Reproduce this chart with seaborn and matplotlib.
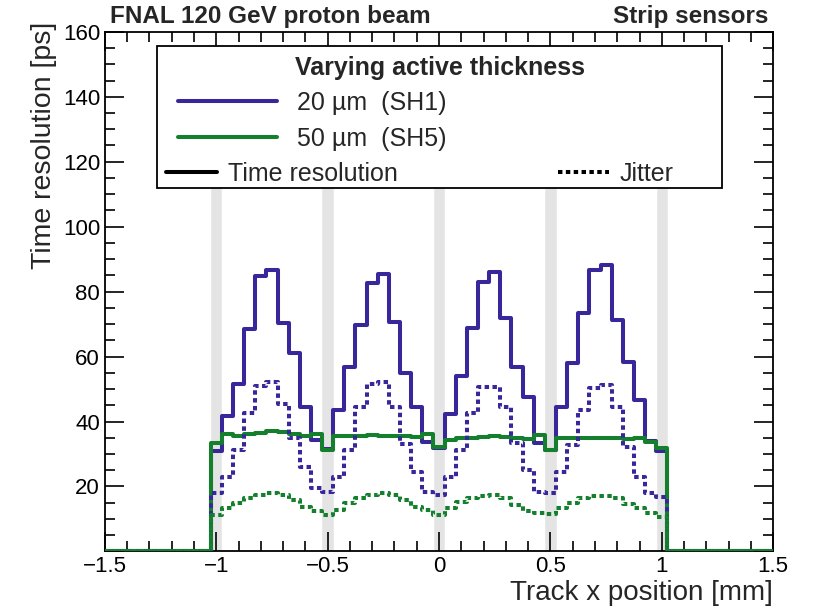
import numpy as np
import pandas as pd
import matplotlib
matplotlib.use("Agg")
import matplotlib.pyplot as plt
from matplotlib.lines import Line2D
from matplotlib.patches import Rectangle
from matplotlib.ticker import MultipleLocator, FuncFormatter
import seaborn as sns

# bin centres (0.05 mm bins), track x position in mm
x_centers = np.round(np.arange(-1.0, 1.0001, 0.05), 3)
bin_width = 0.05
x_range = (-1.5, 1.5)

# SH1 (20 um) time resolution and jitter [ps]
sh1_res = [31.0, 41.8, 51.7, 68.5, 84.7, 86.6, 70.2, 61.0, 44.6, 34.3,
           31.5, 43.5, 56.9, 69.7, 82.5, 85.5, 70.7, 54.8, 44.6, 33.8,
           31.8, 42.2, 54.0, 68.7, 83.0, 86.1, 71.8, 56.7, 47.6, 33.3,
           31.2, 44.6, 57.9, 73.3, 86.6, 88.2, 71.2, 58.4, 46.6, 34.0,
           31.0]
sh1_jit = [17.9, 23.0, 31.2, 42.5, 51.0, 52.2, 45.3, 34.8, 26.1, 19.4,
           18.4, 23.0, 31.2, 44.6, 51.7, 52.2, 44.6, 33.0, 24.6, 18.4,
           17.4, 22.8, 31.2, 42.5, 50.7, 50.7, 44.6, 33.3, 25.0, 18.4,
           17.9, 24.3, 32.8, 43.5, 50.2, 51.2, 44.6, 32.3, 23.0, 17.9,
           16.9]
# SH5 (50 um)
sh5_res = [33.3, 36.1, 35.6, 36.1, 36.4, 37.2, 36.9, 36.1, 35.6, 36.2,
           31.2, 35.4, 35.4, 35.6, 35.9, 35.6, 35.4, 35.4, 35.2, 36.2,
           32.3, 34.3, 34.8, 34.8, 35.1, 35.4, 35.1, 34.8, 34.6, 35.9,
           31.2, 34.8, 35.0, 35.0, 35.0, 34.8, 34.8, 34.6, 35.0, 33.8,
           31.8]
sh5_jit = [11.2, 13.3, 14.8, 16.3, 17.4, 17.9, 17.4, 15.8, 13.8, 12.3,
           11.2, 12.8, 14.8, 16.3, 17.4, 18.1, 17.4, 15.8, 13.8, 12.8,
           11.2, 13.3, 15.3, 16.3, 17.1, 17.4, 16.3, 14.3, 12.3, 11.8,
           11.5, 13.3, 14.8, 16.3, 17.1, 17.1, 16.3, 14.6, 13.3, 11.8,
           10.7]

# strip gap regions (grey bands)
gap_centers = [-1.0, -0.5, 0.0, 0.5, 1.0]
gap_width = 0.056

blue = "#38279a"
green = "#14802e"

series = [
    ("SH1", "Time resolution", sh1_res, blue),
    ("SH5", "Time resolution", sh5_res, green),
    ("SH1", "Jitter", sh1_jit, blue),
    ("SH5", "Jitter", sh5_jit, green),
]

# step-plot edges, padded with empty bins out to the axis range
edges = np.concatenate([[x_range[0]], x_centers - bin_width / 2,
                        [x_centers[-1] + bin_width / 2, x_range[1]]])
rows = []
for sensor, kind, vals, col in series:
    y = np.concatenate([[0.0], vals, [0.0, 0.0]])
    for xe, ye in zip(edges, y):
        rows.append({"sensor": sensor, "kind": kind, "x": xe, "v": ye})
df = pd.DataFrame(rows)

sns.set_theme(style="ticks")
plt.rcParams["font.family"] = ["Liberation Sans", "DejaVu Sans"]

fig = plt.figure(figsize=(8.13, 6.12), dpi=100)
ax = fig.add_axes([0.129, 0.099, 0.822, 0.849])

ax.bar(gap_centers, 115, width=gap_width, color="#e4e4e4", zorder=0.5)

lw = 2.9
dots = (1.1, 0.85)
for i, (sensor, kind, vals, col) in enumerate(series):
    sub = df[(df.sensor == sensor) & (df.kind == kind)]
    sns.lineplot(data=sub, x="x", y="v", ax=ax, color=col, lw=lw,
                 drawstyle="steps-post", estimator=None, sort=False,
                 legend=False, zorder=2 + i)
    if kind == "Jitter":
        ax.lines[-1].set_dashes(dots)

ax.set_xlim(*x_range)
ax.set_ylim(0, 160)
ax.xaxis.set_major_locator(MultipleLocator(0.5))
ax.xaxis.set_minor_locator(MultipleLocator(0.1))
ax.yaxis.set_major_locator(MultipleLocator(20))
ax.yaxis.set_minor_locator(MultipleLocator(5))
ax.xaxis.set_major_formatter(FuncFormatter(lambda v, p: f"{v:g}".replace("-", "\u2212")))
ax.yaxis.set_major_formatter(FuncFormatter(lambda v, p: "" if v == 0 else f"{v:g}"))
ax.tick_params(which="both", direction="in", top=True, right=True,
               width=1.2, colors="black", labelsize=16)
ax.tick_params(which="major", length=14)
ax.tick_params(which="minor", length=7)
for s in ax.spines.values():
    s.set_linewidth(1.3)
    s.set_color("black")

ax.set_xlabel("Track x position [mm]", fontsize=20, loc="right")
ax.xaxis.set_label_coords(1.0, -0.055)
ax.set_ylabel("Time resolution [ps]", fontsize=20.5, loc="top")
ax.yaxis.set_label_coords(-0.072, 1.02)

# legend box
box = Rectangle((0.0778, 0.699), 0.846, 0.2735, transform=ax.transAxes,
                facecolor="white", edgecolor="black", lw=1.3, zorder=10)
ax.add_patch(box)
ax.text(0.5015, 0.930, "Varying active thickness", transform=ax.transAxes,
        ha="center", va="center", fontsize=18, fontweight="bold", zorder=11)

h_sens = [Line2D([], [], color=blue, lw=lw), Line2D([], [], color=green, lw=lw)]
leg1 = ax.legend(h_sens, ["20 \u00b5m  (SH1)", "50 \u00b5m  (SH5)"],
                 loc="center left", bbox_to_anchor=(0.109, 0.829),
                 frameon=False, fontsize=18, handlelength=3.96,
                 handletextpad=0.8, borderpad=0, borderaxespad=0,
                 labelspacing=0.48)
leg1.set_zorder(12)
ax.add_artist(leg1)

h_kind = [Line2D([], [], color="black", lw=lw),
          Line2D([], [], color="black", lw=lw, dashes=dots)]
leg2 = ax.legend(h_kind, ["Time resolution", "Jitter"],
                 loc="center left", bbox_to_anchor=(0.0913, 0.726), ncol=2,
                 frameon=False, fontsize=18, handlelength=2.04,
                 handletextpad=0.44, columnspacing=6.4, borderpad=0,
                 borderaxespad=0)
leg2.set_zorder(12)

fig.text(110 / 813, 1 - 16 / 612, "FNAL 120 GeV proton beam", ha="left",
         va="center", fontsize=17.5, fontweight="bold")
fig.text(768 / 813, 1 - 16 / 612, "Strip sensors", ha="right",
         va="center", fontsize=17.5, fontweight="bold")

fig.savefig("out.png", dpi=100)
